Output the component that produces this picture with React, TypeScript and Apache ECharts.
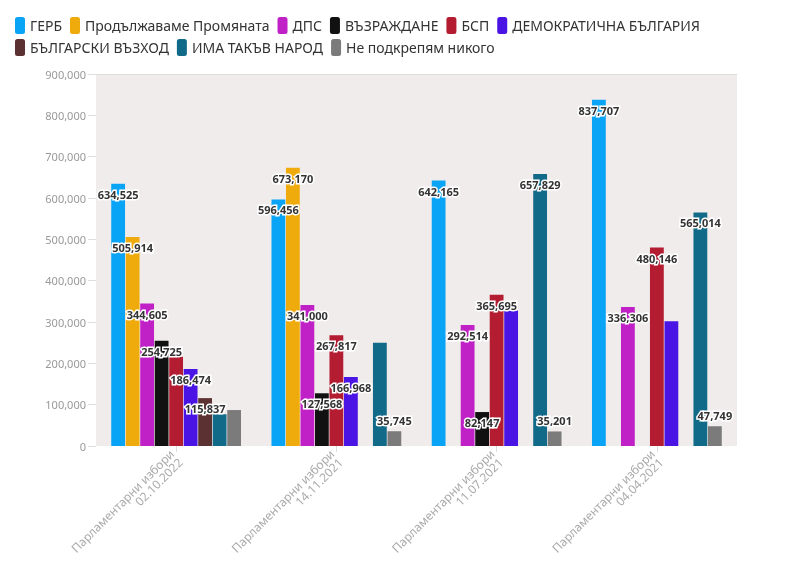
import React, { useEffect, useRef } from "react";
import * as echarts from "echarts";

const categories = [
  "Парламентарни избори\n02.10.2022",
  "Парламентарни избори\n14.11.2021",
  "Парламентарни избори\n11.07.2021",
  "Парламентарни избори\n04.04.2021",
];

const seriesNames = [
  "ГЕРБ",
  "Продължаваме Промяната",
  "ДПС",
  "ВЪЗРАЖДАНЕ",
  "БСП",
  "ДЕМОКРАТИЧНА БЪЛГАРИЯ",
  "БЪЛГАРСКИ ВЪЗХОД",
  "ИМА ТАКЪВ НАРОД",
  "Не подкрепям никого",
];

const gerb = [634525, 596456, 642165, 837707];
const pp = [505914, 673170, null, null];
const dps = [344605, 341000, 292514, 336306];
const vaz = [254725, 127568, 82147, null];
const bsp = [216000, 267817, 365695, 480146];
const db = [186474, 166968, 328000, 302000];
const bv = [115837, null, null, null];
const itn = [77000, 250000, 657829, 565014];
const noneOf = [87000, 35745, 35201, 47749];

// [seriesIndex, categoryIndex] whose value labels are not shown in the reference
const hiddenLabels = [
  [4, 0],
  [7, 0],
  [8, 0],
  [7, 1],
  [5, 2],
  [5, 3],
];

const yTicks = { min: 0, max: 900000, interval: 100000 };

const colors = [
  "#0aa4f6",
  "#efab0c",
  "#c021c6",
  "#111111",
  "#b31c31",
  "#4a14e4",
  "#5c3131",
  "#116a88",
  "#7b7b7b",
];

const allValues = [gerb, pp, dps, vaz, bsp, db, bv, itn, noneOf];

const fmt = (v: number) => v.toLocaleString("en-US");

export default function App() {
  const ref = useRef<HTMLDivElement>(null);
  useEffect(() => {
    if (!ref.current) return;
    const chart = echarts.init(ref.current, null, { renderer: "svg" });
    const font = "Noto Sans";
    const series = allValues.map((vals, si) => ({
      name: seriesNames[si],
      type: "bar",
      barGap: "5%",
      barCategoryGap: "19%",
      itemStyle: { color: colors[si] },
      data: vals.map((v, ci) => {
        const hidden = hiddenLabels.some((h) => h[0] === si && h[1] === ci);
        return {
          value: v,
          label: {
            show: v != null && !hidden,
            position: v != null && v < 60000 ? "top" : "insideTop",
            distance: 5,
            formatter: (p: any) => fmt(p.value),
            color: "#333",
            fontFamily: font,
            fontWeight: "bold",
            fontSize: 11,
            textBorderColor: "#fff",
            textBorderWidth: 3,
          },
        };
      }),
    }));
    chart.setOption({
      animation: false,
      color: colors,
      textStyle: { fontFamily: font },
      legend: [
        {
          data: seriesNames.slice(0, 6),
          left: 10,
          top: 12,
          icon: "roundRect",
          itemWidth: 10,
          itemHeight: 17,
          itemGap: 8,
          textStyle: { fontFamily: font, fontSize: 14, color: "#333" },
        },
        {
          data: seriesNames.slice(6),
          left: 10,
          top: 34,
          icon: "roundRect",
          itemWidth: 10,
          itemHeight: 17,
          itemGap: 8,
          textStyle: { fontFamily: font, fontSize: 14, color: "#333" },
        },
      ],
      grid: {
        left: 96,
        right: 63,
        top: 74,
        bottom: 129,
        show: true,
        backgroundColor: "#f1ecec",
        borderWidth: 0,
      },
      xAxis: [
        {
          type: "category",
          data: categories,
          axisLine: { show: false },
          axisTick: {
            show: true,
            alignWithLabel: true,
            length: 6,
            lineStyle: { color: "#ddd" },
          },
          axisLabel: {
            rotate: 45,
            interval: 0,
            color: "#aaa",
            fontSize: 12,
            fontFamily: font,
            margin: 10,
          },
        },
        {
          type: "category",
          position: "top",
          data: categories,
          axisLine: { show: true, lineStyle: { color: "#ddd" } },
          axisTick: { show: false },
          axisLabel: { show: false },
        },
      ],
      yAxis: {
        type: "value",
        min: yTicks.min,
        max: yTicks.max,
        interval: yTicks.interval,
        axisLine: { show: false },
        axisTick: { show: true, length: 8, lineStyle: { color: "#ddd" } },
        splitLine: { show: false },
        axisLabel: {
          color: "#999",
          fontSize: 11,
          fontFamily: font,
          margin: 10,
          formatter: (v: number) => fmt(v),
        },
      },
      series,
    });
    return () => chart.dispose();
  }, []);
  return (
    <div
      ref={ref}
      style={{ position: "fixed", left: 0, top: 0, width: 800, height: 575 }}
    />
  );
}
